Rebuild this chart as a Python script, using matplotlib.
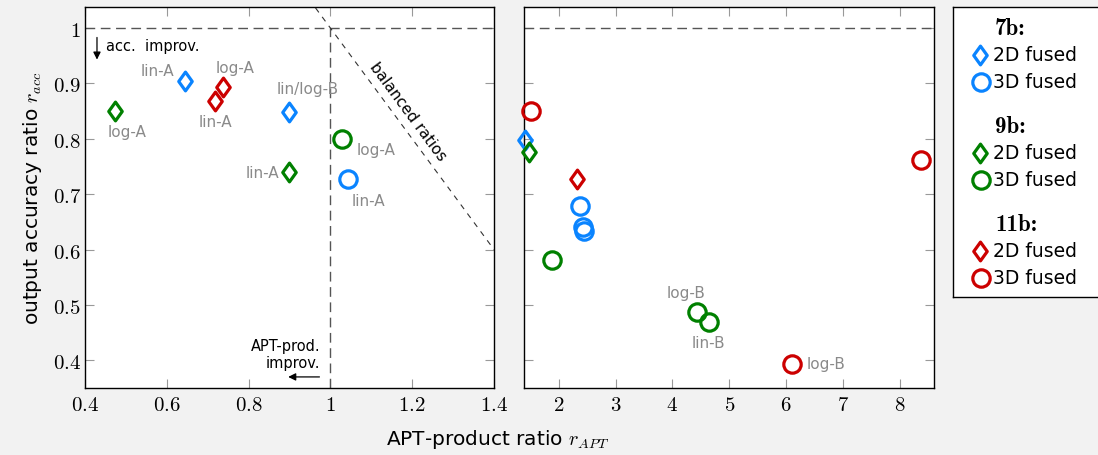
import numpy as np
import matplotlib
matplotlib.use("Agg")
import matplotlib.pyplot as plt
from matplotlib.path import Path

plt.rcParams['mathtext.fontset'] = 'cm'
plt.rcParams['font.family'] = ['DejaVu Sans']

# data: (APT-product ratio, output accuracy ratio)
b7_2d_x = [0.645, 0.899, 1.40]
b7_2d_y = [0.905, 0.848, 0.797]
b7_3d_x = [1.044, 2.38, 2.42, 2.44]
b7_3d_y = [0.728, 0.679, 0.640, 0.634]
b9_2d_x = [0.473, 0.899, 1.473]
b9_2d_y = [0.851, 0.740, 0.776]
b9_3d_x = [1.029, 1.88, 4.44, 4.64]
b9_3d_y = [0.799, 0.581, 0.487, 0.470]
b11_2d_x = [0.738, 0.718, 2.316]
b11_2d_y = [0.893, 0.869, 0.728]
b11_3d_x = [1.513, 6.11, 8.38]
b11_3d_y = [0.850, 0.394, 0.762]

groups = ["7b:", "9b:", "11b:"]
colors = ["#0a84ff", "#008000", "#cc0000"]
series = [
    (b7_2d_x, b7_2d_y, b7_3d_x, b7_3d_y),
    (b9_2d_x, b9_2d_y, b9_3d_x, b9_3d_y),
    (b11_2d_x, b11_2d_y, b11_3d_x, b11_3d_y),
]

left_labels = [("lin-A", 0.578, 0.923), ("log-A", 0.768, 0.928),
               ("lin-A", 0.718, 0.831), ("log-A", 0.502, 0.813),
               ("lin/log-B", 0.944, 0.890), ("log-A", 1.112, 0.780),
               ("lin-A", 0.834, 0.739), ("lin-A", 1.094, 0.688)]
right_labels = [("log-B", 4.24, 0.522), ("lin-B", 4.63, 0.432),
                ("log-B", 6.71, 0.395)]

xt_left = [0.4, 0.6, 0.8, 1.0, 1.2, 1.4]
xt_left_lbl = ["0.4", "0.6", "0.8", "1", "1.2", "1.4"]
xt_right = [2, 3, 4, 5, 6, 7, 8]
yt = [0.4, 0.5, 0.6, 0.7, 0.8, 0.9, 1.0]
yt_lbl = ["0.4", "0.5", "0.6", "0.7", "0.8", "0.9", "1"]

diamond = Path([(0, 1), (0.72, 0), (0, -1), (-0.72, 0), (0, 1)],
               [Path.MOVETO, Path.LINETO, Path.LINETO, Path.LINETO, Path.CLOSEPOLY])

W, H = 1098, 456
fig = plt.figure(figsize=(W / 100, H / 100), dpi=100, facecolor="#f2f2f2")
ax1 = fig.add_axes([85 / W, 1 - 389 / H, 409 / W, 381 / H])
ax2 = fig.add_axes([524 / W, 1 - 389 / H, 410 / W, 381 / H])

ax1.set_xlim(0.4, 1.4)
ax2.set_xlim(1.39, 8.6)
for ax in (ax1, ax2):
    ax.set_ylim(0.35, 1.038)
    ax.set_yticks(yt)
    ax.tick_params(direction="in", length=6.5, width=0.8, color="#999999",
                   top=True, right=True, labelsize=15, pad=4)
    for s in ax.spines.values():
        s.set_linewidth(1.0)
    ax.axhline(1.0, color="#555555", lw=1.0, dashes=(7, 4))

ax1.set_xticks(xt_left)
ax1.set_xticklabels(["$%s$" % t for t in xt_left_lbl])
ax1.set_yticklabels(["$%s$" % t for t in yt_lbl])
ax1.tick_params(axis="y", pad=3)
ax2.set_xticks(xt_right)
ax2.set_xticklabels(["$%d$" % t for t in xt_right])
ax2.set_yticklabels([])

# split points between the two panels
for (x2, y2, x3, y3), c in zip(series, colors):
    for xs, ys, mk, ms in ((x2, y2, diamond, 13.5), (x3, y3, "o", 12.5)):
        xs = np.array(xs)
        ys = np.array(ys)
        m = xs < 1.39
        ax1.plot(xs[m], ys[m], ls="none", marker=mk, ms=ms, mfc="none",
                 mec=c, mew=2.3, zorder=3)
        ax2.plot(xs[~m], ys[~m], ls="none", marker=mk, ms=ms, mfc="none",
                 mec=c, mew=2.3, zorder=3, clip_on=False)

for t, x, y in left_labels:
    ax1.text(x, y, t, color="#8a8a8a", fontsize=11, ha="center", va="center")
for t, x, y in right_labels:
    ax2.text(x, y, t, color="#8a8a8a", fontsize=11, ha="center", va="center")

# reference lines
ax1.plot([1.0, 1.0], [0.35, 1.0], color="#555555", lw=1.0, dashes=(7, 4))
bx = np.array([0.9, 1.4])
ax1.plot(bx, 2 - bx, color="#333333", lw=0.8, dashes=(5, 5))
ax1.text(1.19, 0.85, "balanced ratios", rotation=-53.5, fontsize=11,
         ha="center", va="center", rotation_mode="anchor")

arr = dict(arrowstyle="-|>", lw=0.9, color="black", mutation_scale=11)
ax1.annotate("", xy=(0.4293, 0.938), xytext=(0.4293, 0.988), arrowprops=arr)
ax1.text(0.451, 0.969, "acc.  improv.", fontsize=10.5, ha="left", va="center")
ax1.annotate("", xy=(0.890, 0.370), xytext=(0.980, 0.370), arrowprops=arr)
ax1.text(0.976, 0.412, "APT-prod.\nimprov.", fontsize=10.5, ha="right",
         va="center", multialignment="right", linespacing=1.15)

ax1.set_ylabel("output accuracy ratio $r_{acc}$", fontsize=14.5, labelpad=6)
fig.text(498 / W, 1 - 440 / H, "APT-product ratio $r_{APT}$", fontsize=14.5,
         ha="center", va="center")

# legend panel
lg = fig.add_axes([953 / W, 1 - 298 / H, 150 / W, 290 / H])
lg.set_xlim(0, 150)
lg.set_ylim(290, 0)
lg.set_xticks([])
lg.set_yticks([])
for s in lg.spines.values():
    s.set_linewidth(1.0)
row = 0
for g, c in zip(groups, colors):
    y0 = 21 + row * 98
    lg.text(42, y0, g, fontsize=16.5, family="cmb10", ha="left", va="center")
    lg.plot([27], [y0 + 27], ls="none", marker=diamond, ms=13.5, mfc="none", mec=c, mew=2.3)
    lg.plot([28], [y0 + 54], ls="none", marker="o", ms=12.5, mfc="none", mec=c, mew=2.3)
    lg.text(40, y0 + 27, "2D fused", fontsize=13.5, ha="left", va="center")
    lg.text(40, y0 + 54, "3D fused", fontsize=13.5, ha="left", va="center")
    row += 1

fig.savefig("out.png", dpi=100, facecolor=fig.get_facecolor())
